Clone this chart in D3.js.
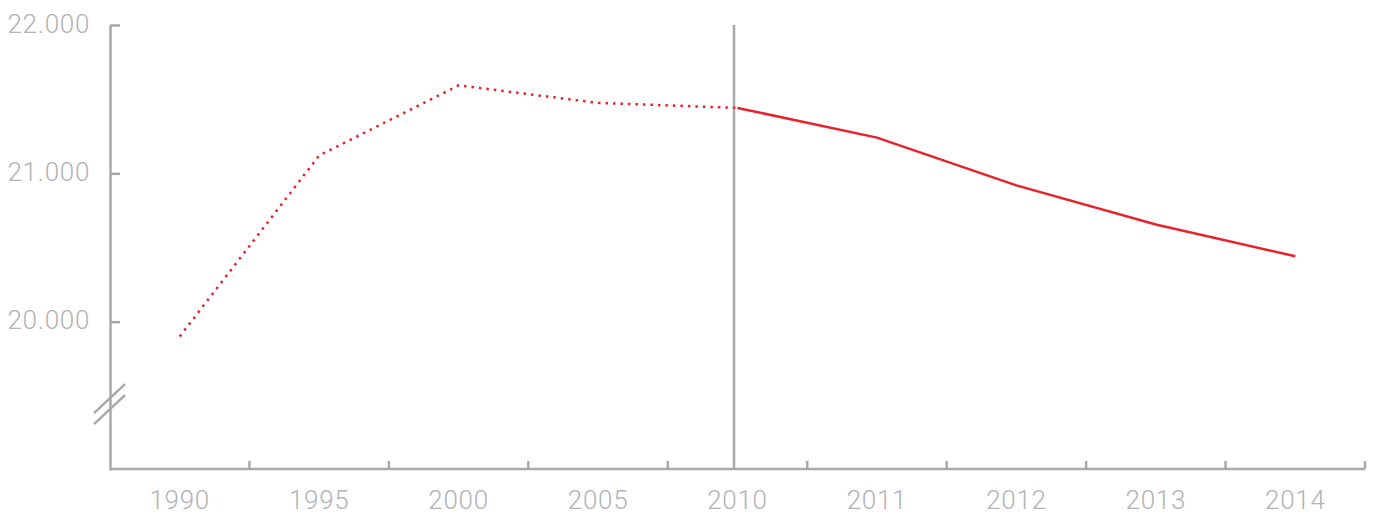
<!DOCTYPE html>
<html>
<head>
<meta charset="utf-8">
<script src="https://cdn.jsdelivr.net/npm/d3@7"></script>
<style>
  body { margin: 0; background: #fff; }
  #chart text { font-family: Roboto, "Liberation Sans", sans-serif; font-weight: 300; letter-spacing: 0.7px; }
</style>
</head>
<body>
<div id="chart"></div>
<script>
const years = ['1990', '1995', '2000', '2005', '2010', '2011', '2012', '2013', '2014'];
const values = [19900, 21120, 21593, 21475, 21441, 21241, 20919, 20655, 20441];
const yTicks = [20000, 21000, 22000];
const splitYear = '2010';
const breakValues = [19485, 19410];

const width = 1374;
const height = 514;
const margin = { top: 25, right: 9, bottom: 45, left: 110 };
const axisColor = '#a9a9ad';
const textColor = '#b3b3b7';
const lineColor = '#e8212b';

const svg = d3.select('#chart').append('svg')
  .attr('width', width)
  .attr('height', height);

const xScale = d3.scaleBand()
  .domain(years)
  .range([margin.left, width - margin.right])
  .padding(0);
const yScale = d3.scaleLinear()
  .domain([19000, 22000])
  .range([height - margin.bottom + 1, margin.top]);

const data = years.map((y, i) => ({ year: y, value: values[i] }));
const cx = d => xScale(d.year) + xScale.bandwidth() / 2;
const splitIndex = years.indexOf(splitYear);

const locale = d3.formatLocale({ decimal: ',', thousands: '.', grouping: [3], currency: ['', ''] });
const yFormat = locale.format(',.0f');

// y axis, ticks point inward
const yAxis = d3.axisLeft(yScale)
  .tickValues(yTicks)
  .tickSizeInner(-10)
  .tickSizeOuter(0)
  .tickPadding(20)
  .tickFormat(yFormat);
const yAxisG = svg.append('g')
  .attr('transform', `translate(${margin.left},0)`)
  .call(yAxis);
yAxisG.selectAll('line, path').attr('stroke', axisColor).attr('stroke-width', 2.5);
yAxisG.selectAll('text').attr('fill', textColor).attr('font-size', 26)
  .attr('font-family', 'Roboto, "Liberation Sans", sans-serif').attr('dy', '0.28em');

// axis break marks
breakValues.forEach(v => {
  const by = yScale(v);
  svg.append('line')
    .attr('x1', margin.left - 16).attr('y1', by + 15)
    .attr('x2', margin.left + 15).attr('y2', by - 14)
    .attr('stroke', axisColor).attr('stroke-width', 2.5);
});

// x axis
const xAxisY = yScale(19000) - 1;
const xAxis = d3.axisBottom(xScale)
  .tickSize(0)
  .tickPadding(22);
const xAxisG = svg.append('g')
  .attr('transform', `translate(0,${xAxisY})`)
  .call(xAxis);
xAxisG.select('.domain').remove();
xAxisG.selectAll('text').attr('fill', textColor).attr('font-size', 26)
  .attr('font-family', 'Roboto, "Liberation Sans", sans-serif');

svg.append('line')
  .attr('x1', margin.left).attr('x2', width - margin.right)
  .attr('y1', xAxisY).attr('y2', xAxisY)
  .attr('stroke', axisColor).attr('stroke-width', 2.5);
svg.selectAll('.xtick')
  .data(years)
  .join('line').attr('class', 'xtick')
  .attr('x1', d => xScale(d) + xScale.bandwidth())
  .attr('x2', d => xScale(d) + xScale.bandwidth())
  .attr('y1', xAxisY)
  .attr('y2', xAxisY - 8)
  .attr('stroke', axisColor).attr('stroke-width', 2.5);

// vertical divider at split year
const splitX = xScale(splitYear) + xScale.bandwidth() / 2 - 3.5;
svg.append('line')
  .attr('x1', splitX).attr('x2', splitX)
  .attr('y1', yScale(22000)).attr('y2', xAxisY)
  .attr('stroke', axisColor).attr('stroke-width', 2.5);

const line = d3.line()
  .x(cx)
  .y(d => yScale(d.value));

svg.append('path')
  .datum(data.slice(0, splitIndex + 1))
  .attr('d', line)
  .attr('fill', 'none')
  .attr('stroke', lineColor)
  .attr('stroke-width', 2.5)
  .attr('stroke-dasharray', '2.5 5');

svg.append('path')
  .datum(data.slice(splitIndex))
  .attr('d', line)
  .attr('fill', 'none')
  .attr('stroke', lineColor)
  .attr('stroke-width', 2.5);
</script>
</body>
</html>
